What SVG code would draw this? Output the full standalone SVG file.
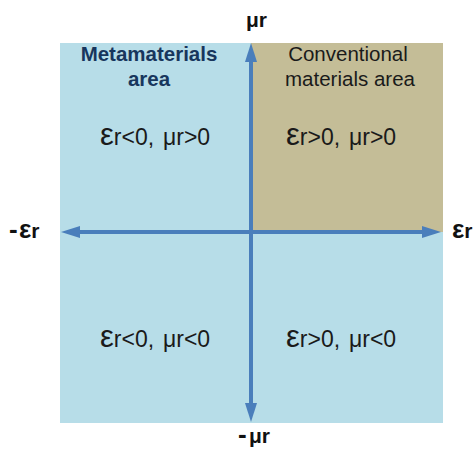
<svg xmlns="http://www.w3.org/2000/svg" width="475" height="453" viewBox="0 0 475 453">
  <style>
    text { font-family: "Liberation Sans", Arial, sans-serif; }
    .q { font-size: 23px; fill: #1a1a1a; }
    .eps { font-size: 31px; }
    .ax { font-size: 21px; font-weight: bold; fill: #111; }
    .axeps { font-size: 26px; }
    .hy { font-size: 26px; }
    .meta { font-size: 20.5px; font-weight: bold; fill: #17365D; text-anchor: middle; }
    .conv { font-size: 20.5px; fill: #1a1a1a; text-anchor: middle; }
    .axis { stroke: #4A7EBB; stroke-width: 4; fill: none; marker-start: url(#arr); marker-end: url(#arr); }
  </style>
  <defs>
    <marker id="arr" markerUnits="userSpaceOnUse" markerWidth="19" markerHeight="13" refX="1" refY="6.5" orient="auto-start-reverse">
      <path d="M0,0.5 L19,6.5 L0,12.5 z" fill="#4A7EBB"/>
    </marker>
  </defs>
  <rect x="0" y="0" width="475" height="453" fill="#ffffff"/>

  <g id="q2">
    <rect x="60" y="43" width="191" height="189" fill="#B7DDE8"/>
    <text class="meta" x="149" y="60.5">Metamaterials</text>
    <text class="meta" x="149" y="85.5">area</text>
    <text class="q" x="100" y="145"><tspan class="eps">ε</tspan>r&lt;0,<tspan x="163">μ</tspan>r&gt;0</text>
  </g>
  <g id="q1">
    <rect x="251" y="43" width="192" height="189" fill="#C4BD97"/>
    <text class="conv" x="348" y="60.5">Conventional</text>
    <text class="conv" x="350" y="85.5">materials area</text>
    <text class="q" x="286" y="145"><tspan class="eps">ε</tspan>r&gt;0,<tspan x="349">μ</tspan>r&gt;0</text>
  </g>
  <g id="q3">
    <rect x="60" y="232" width="191" height="191" fill="#B7DDE8"/>
    <text class="q" x="100" y="347"><tspan class="eps">ε</tspan>r&lt;0,<tspan x="163">μ</tspan>r&lt;0</text>
  </g>
  <g id="q4">
    <rect x="251" y="232" width="192" height="191" fill="#B7DDE8"/>
    <text class="q" x="286" y="347"><tspan class="eps">ε</tspan>r&gt;0,<tspan x="349">μ</tspan>r&lt;0</text>
  </g>

  <g id="connectors">
    <line class="axis" x1="251" y1="61" x2="251" y2="404"/>
    <line class="axis" x1="79" y1="232" x2="423" y2="232"/>
  </g>

  <g id="label-mu">
    <text class="ax" x="246" y="27">μr</text>
  </g>
  <g id="label-neg-eps">
    <text class="ax" x="9" y="238"><tspan class="hy">-</tspan><tspan class="axeps" x="19">ε</tspan>r</text>
  </g>
  <g id="label-eps">
    <text class="ax" x="452" y="238"><tspan class="axeps">ε</tspan>r</text>
  </g>
  <g id="label-neg-mu">
    <text class="ax" x="238" y="443"><tspan class="hy">-</tspan><tspan x="249">μ</tspan>r</text>
  </g>
</svg>
